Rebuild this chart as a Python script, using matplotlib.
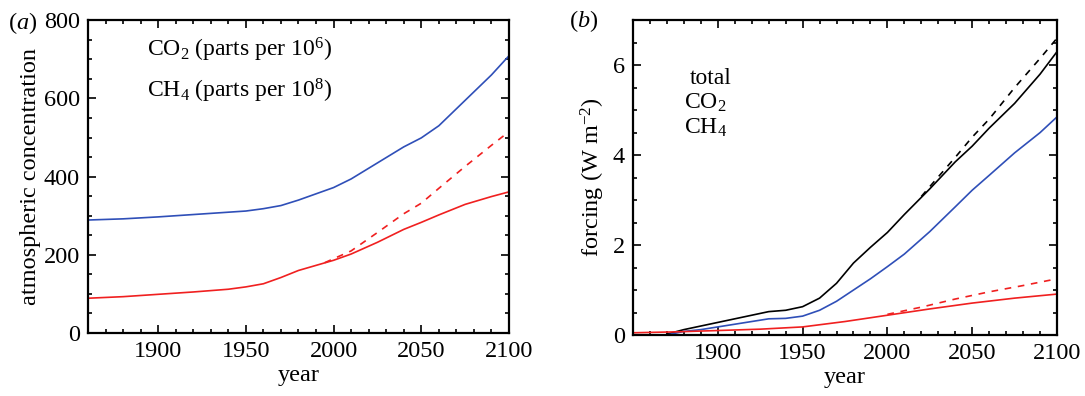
import numpy as np
import matplotlib
matplotlib.use('Agg')
import matplotlib.pyplot as plt
from matplotlib.ticker import MultipleLocator

plt.rcParams['font.family'] = ['Liberation Serif', 'DejaVu Serif']
plt.rcParams['mathtext.fontset'] = 'custom'
plt.rcParams['mathtext.rm'] = 'Liberation Serif'
plt.rcParams['mathtext.it'] = 'Liberation Serif:italic'

# panel (a): concentrations
yr_a = [1860, 1880, 1900, 1920, 1940, 1950, 1960, 1970, 1980, 1990, 2000,
        2010, 2025, 2040, 2050, 2060, 2075, 2090, 2100]
co2_conc = [289, 292, 297, 303, 309, 312, 318, 326, 340, 356, 372,
            394, 435, 476, 499, 530, 595, 660, 709]
ch4_conc = [89, 93, 99, 105, 112, 118, 126, 142, 160, 173, 186,
            202, 232, 265, 283, 302, 329, 349, 361]
yr_a_dash = [1995, 2000, 2010, 2025, 2040, 2050, 2060, 2075, 2090, 2100]
ch4_conc_dash = [180, 190, 210, 257, 305, 332, 370, 426, 480, 515]

# panel (b): forcing
yr_b = [1870, 1880, 1890, 1900, 1910, 1920, 1930, 1940, 1950, 1960, 1970,
        1980, 1990, 2000, 2010, 2025, 2040, 2050, 2060, 2075, 2090, 2100]
total_f = [0.02, 0.12, 0.20, 0.28, 0.36, 0.44, 0.52, 0.55, 0.63, 0.82, 1.15,
           1.60, 1.95, 2.28, 2.68, 3.25, 3.85, 4.20, 4.60, 5.15, 5.80, 6.30]
yr_b_dash = [2020, 2025, 2040, 2050, 2060, 2075, 2090, 2100]
total_f_dash = [3.08, 3.30, 3.95, 4.40, 4.80, 5.50, 6.15, 6.60]
yr_co2 = [1860, 1870, 1880, 1890, 1900, 1920, 1930, 1940, 1950, 1960, 1970,
          1980, 1990, 2000, 2010, 2025, 2040, 2050, 2060, 2075, 2090, 2100]
co2_f = [0.0, 0.0, 0.08, 0.12, 0.18, 0.30, 0.36, 0.37, 0.42, 0.55, 0.75,
         1.00, 1.25, 1.52, 1.80, 2.30, 2.85, 3.22, 3.55, 4.05, 4.50, 4.85]
yr_ch4 = [1850, 1875, 1900, 1925, 1950, 1975, 2000, 2025, 2050, 2075, 2100]
ch4_f = [0.05, 0.07, 0.10, 0.13, 0.18, 0.30, 0.44, 0.58, 0.71, 0.82, 0.91]
yr_ch4_dash = [2000, 2020, 2040, 2060, 2080, 2100]
ch4_f_dash = [0.46, 0.62, 0.80, 0.96, 1.10, 1.25]

blue = '#2f4fb8'
red = '#f02020'
fs = 17.5

fig = plt.figure(figsize=(10.85, 3.96), dpi=100)
ax1 = fig.add_axes([0.0811, 0.159, 0.388, 0.790])
ax2 = fig.add_axes([0.5834, 0.154, 0.3908, 0.795])

ax1.plot(yr_a, co2_conc, color=blue, lw=1.2)
ax1.plot(yr_a, ch4_conc, color=red, lw=1.2)
ax1.plot(yr_a_dash, ch4_conc_dash, color=red, lw=1.2, ls=(0, (4, 4)))
ax1.set_xlim(1860, 2100)
ax1.set_ylim(0, 800)
ax1.xaxis.set_minor_locator(MultipleLocator(10))
ax1.yaxis.set_major_locator(MultipleLocator(200))
ax1.yaxis.set_minor_locator(MultipleLocator(50))
ax1.set_xlabel('year', fontsize=fs, labelpad=2)
ax1.set_ylabel('atmospheric concentration', fontsize=fs, labelpad=2)
ax1.text(0.14, 0.904, r'CO$_2$ (parts per 10$^6$)', transform=ax1.transAxes,
         fontsize=17, va='center', ha='left')
ax1.text(0.14, 0.773, r'CH$_4$ (parts per 10$^8$)', transform=ax1.transAxes,
         fontsize=17, va='center', ha='left')
fig.text(0.007, 0.942, r'($a$)', fontsize=fs, va='center')

ax2.plot(yr_b, total_f, color='black', lw=1.2)
ax2.plot(yr_b_dash, total_f_dash, color='black', lw=1.2, ls=(0, (4, 4)))
ax2.plot(yr_co2, co2_f, color=blue, lw=1.2)
ax2.plot(yr_ch4, ch4_f, color=red, lw=1.2)
ax2.plot(yr_ch4_dash, ch4_f_dash, color=red, lw=1.2, ls=(0, (4, 4)))
ax2.set_xlim(1850, 2100)
ax2.set_ylim(0, 7)
ax2.xaxis.set_minor_locator(MultipleLocator(10))
ax2.yaxis.set_major_locator(MultipleLocator(2))
ax2.yaxis.set_minor_locator(MultipleLocator(0.5))
ax2.set_xlabel('year', fontsize=fs, labelpad=2)
ax2.set_ylabel(r'forcing (W m$^{-2}$)', fontsize=fs, labelpad=4)
ax2.text(0.134, 0.816, 'total', transform=ax2.transAxes, fontsize=17, va='center')
ax2.text(0.121, 0.737, r'CO$_2$', transform=ax2.transAxes, fontsize=17, va='center')
ax2.text(0.121, 0.657, r'CH$_4$', transform=ax2.transAxes, fontsize=17, va='center')
fig.text(0.524, 0.947, r'($b$)', fontsize=fs, va='center')

for ax in (ax1, ax2):
    ax.set_xticks([1900, 1950, 2000, 2050, 2100])
    ax.tick_params(which='both', direction='in', top=True, right=True,
                   labelsize=fs, width=1.2)
    ax.tick_params(which='major', length=6, pad=6)
    ax.tick_params(which='minor', length=3)
    for s in ax.spines.values():
        s.set_linewidth(1.6)

fig.savefig('out.png', dpi=100)
